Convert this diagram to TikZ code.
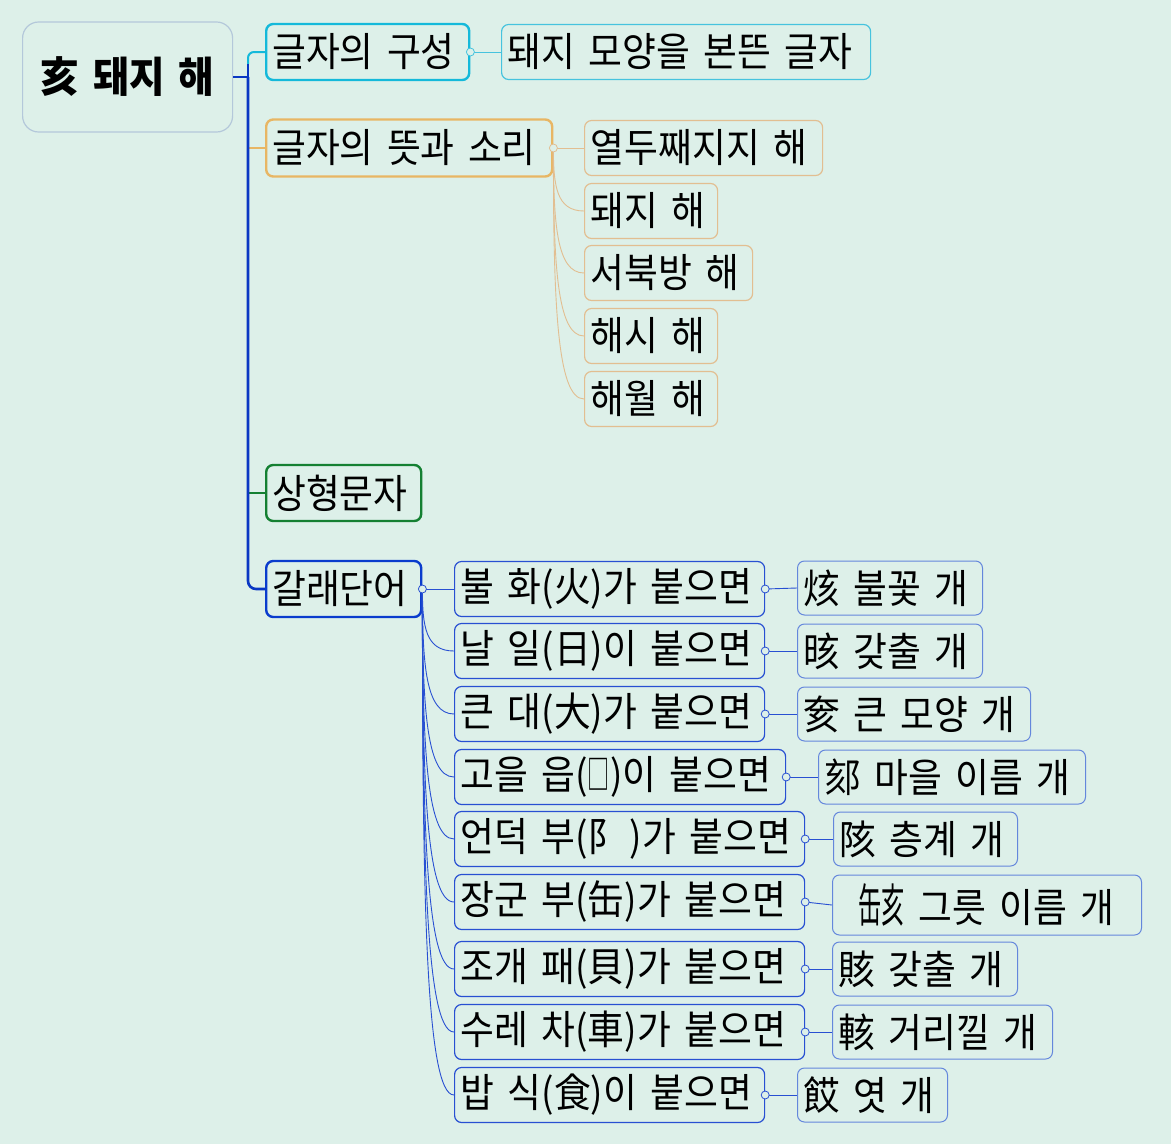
\documentclass[tikz,border=0pt]{standalone}
\usepackage{fontspec}
\setmainfont{Noto Sans CJK KR}[FakeStretch=0.92,WordSpace=1.6]
\usepackage{graphicx}
\usetikzlibrary{calc}

\definecolor{bgc}{RGB}{221,240,233}
\definecolor{rootc}{RGB}{180,200,218}
\definecolor{cyanc}{RGB}{20,185,218}
\definecolor{cyanl}{RGB}{70,195,222}
\definecolor{orangec}{RGB}{232,182,100}
\definecolor{orangel}{RGB}{226,190,145}
\definecolor{greenc}{RGB}{20,128,50}
\definecolor{bluec}{RGB}{10,60,205}
\definecolor{bluel}{RGB}{40,80,210}
\definecolor{leafc}{RGB}{100,135,220}
\definecolor{trunkc}{RGB}{10,55,195}

\begin{document}
\begin{tikzpicture}[x=1pt,y=-1pt,
  box/.style={rectangle,rounded corners=7pt,fill=bgc,text=black,inner xsep=6pt,inner ysep=0pt,
    minimum height=56pt,anchor=west,align=left,font=\fontsize{40}{44}\selectfont},
  topbox/.style={box,draw=#1,line width=2.4pt},
  subbox/.style={box,draw=#1,line width=1.2pt,minimum height=55pt},
  leafbox/.style={box,draw=#1,line width=1pt,minimum height=54pt},
  link/.style={draw=#1,line width=0.9pt},
  knob/.style={circle,draw=#1,fill=bgc,inner sep=0pt,minimum size=8pt,line width=0.8pt},
  trunk/.style={draw=trunkc,line width=2.6pt}]

\fill[bgc] (0,0) rectangle (1171,1144);
\useasboundingbox (0,0) rectangle (1171,1144);

% root and first level
\node[box,draw=rootc,line width=1.2pt,rounded corners=16pt,align=center,minimum width=210pt,minimum height=110pt,
  font=\fontsize{42}{46}\selectfont\bfseries] (root) at (22,77) {亥 돼지 해};

\node[topbox=cyanc,text width=191pt] (comp) at (265,52) {글자의 구성};
\node[topbox=orangec,text width=274pt,minimum height=57pt] (sound) at (265,148) {글자의 뜻과 소리};
\node[topbox=greenc,text width=143pt] (pict) at (265,493) {상형문자};
\node[topbox=bluec,text width=143pt] (deriv) at (265,589) {갈래단어};

% second level
\node[subbox=cyanl,text width=357pt] (shape) at (501,52) {돼지 모양을 본뜬 글자};

\node[subbox=orangel,text width=226pt] (s1) at (584,148) {열두째지지 해};
\node[subbox=orangel,text width=121pt] (s2) at (584,211) {돼지 해};
\node[subbox=orangel,text width=156pt] (s3) at (584,273) {서북방 해};
\node[subbox=orangel,text width=121pt] (s4) at (584,336) {해시 해};
\node[subbox=orangel,text width=121pt] (s5) at (584,399) {해월 해};

\node[subbox=bluel,text width=298pt] (b1) at (454,589) {불 화(火)가 붙으면};
\node[subbox=bluel,text width=298pt] (b2) at (454,651) {날 일(日)이 붙으면};
\node[subbox=bluel,text width=298pt] (b3) at (454,714) {큰 대(大)가 붙으면};
\node[subbox=bluel,text width=319pt] (b4) at (454,777) {고을 읍(\scalebox{0.6}[1]{□})이 붙으면};
\node[subbox=bluel,text width=338pt] (b5) at (454,839) {언덕 부(阝\hspace{5pt})가 붙으면};
\node[subbox=bluel,text width=338pt] (b6) at (454,902) {장군 부(缶)가 붙으면};
\node[subbox=bluel,text width=338pt] (b7) at (454,969) {조개 패(貝)가 붙으면};
\node[subbox=bluel,text width=338pt] (b8) at (454,1032) {수레 차(車)가 붙으면};
\node[subbox=bluel,text width=298pt] (b9) at (454,1095) {밥 식(食)이 붙으면};

% third level
\node[leafbox=leafc,text width=173pt] (c1) at (797,588) {烗 불꽃 개};
\node[leafbox=leafc,text width=173pt] (c2) at (797,651) {晐 갖출 개};
\node[leafbox=leafc,text width=221pt] (c3) at (797,714) {奒 큰 모양 개};
\node[leafbox=leafc,text width=255pt] (c4) at (818,777) {郂 마을 이름 개};
\node[leafbox=leafc,text width=172pt] (c5) at (833,839) {陔 층계 개};
\node[leafbox=leafc,text width=297pt,minimum height=60pt] (c6) at (832,905)
  {\hspace{20pt}{\fontsize{46}{48}\selectfont\scalebox{0.55}[1]{缶}\scalebox{0.55}[1]{亥}} 그릇 이름 개};
\node[leafbox=leafc,text width=173pt] (c7) at (832,969) {賅 갖출 개};
\node[leafbox=leafc,text width=208pt] (c8) at (832,1032) {輆 거리낄 개};
\node[leafbox=leafc,text width=138pt] (c9) at (797,1095) {餀 엿 개};

% trunk from the root
\coordinate (fork) at (248,77);
\coordinate (forktop) at (248,64);
\draw[draw=cyanc,line width=2pt,rounded corners=6pt] (forktop) |- (comp.west);
\draw[draw=orangec,line width=1.5pt] (fork |- sound.west) -- (sound.west);
\draw[draw=greenc,line width=1.5pt] (fork |- pict.west) -- (pict.west);
\draw[trunk] (root.east) -- (fork) -- (forktop);
\draw[trunk,rounded corners=8pt] (fork) |- (deriv.west);

% links
\draw[link=cyanl] (comp.east) -- (shape.west);
\draw[link=orangel] (sound.east) -- (s1.west);
\foreach \n in {s2,s3,s4,s5}
  \draw[link=orangel] (sound.east) .. controls ($(sound.east)!0.6!(sound.east |- \n.west)$)
    and ([xshift=3pt]sound.east |- \n.west) .. (\n.west);
\draw[link=bluel] (deriv.east) -- (b1.west);
\foreach \n in {b2,b3,b4,b5,b6,b7,b8,b9}
  \draw[link=bluel] (deriv.east) .. controls ($(deriv.east)!0.6!(deriv.east |- \n.west)$)
    and ([xshift=3pt]deriv.east |- \n.west) .. (\n.west);
\foreach \i in {1,...,9}
  \draw[link=bluel] (b\i.east) -- (c\i.west);

% knobs
\node[knob=cyanl] (kcomp) at (comp.east) {};
\node[knob=orangel] (ksound) at (sound.east) {};
\node[knob=bluel] (kderiv) at (deriv.east) {};
\foreach \i in {1,...,9}
  \node[knob=bluel] (kb\i) at (b\i.east) {};

\end{tikzpicture}
\end{document}
